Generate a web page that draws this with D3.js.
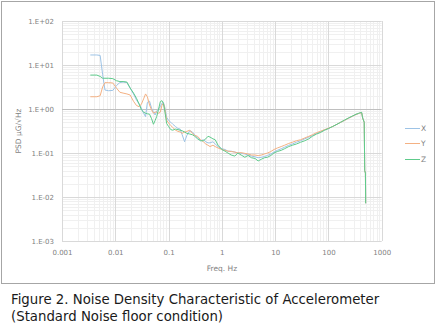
<!DOCTYPE html>
<html><head><meta charset="utf-8">
<script src="https://cdn.jsdelivr.net/npm/d3@7/dist/d3.min.js"></script>
<style>body{margin:0;background:#fff}svg{display:block}</style>
</head><body>
<svg id="c" width="441" height="332"></svg>
<script>
const freqs = [0.0034,0.0045,0.0052,0.0058,0.0064,0.0075,0.009,0.0105,0.0122,0.014,0.0165,0.019,0.022,0.025,0.028,0.031,0.034,0.037,0.040,0.044,0.048,0.052,0.056,0.060,0.065,0.070,0.075,0.080,0.085,0.092,0.1,0.11,0.12,0.135,0.15,0.165,0.18,0.2,0.22,0.25,0.28,0.31,0.35,0.4,0.45,0.5,0.55,0.6,0.68,0.75,0.85,1.0,1.15,1.3,1.5,1.75,2.0,2.3,2.7,3.1,3.6,4.2,4.8,5.5,6.3,7.2,8.3,9.5,11,13,15,18,21,25,30,36,43,50,60,70,85,100,120,145,170,200,240,280,330,380,420,440,470,480,495,500];
const seriesX = [16.9,16.9,16.5,6,2.7,2.6,2.65,3.4,4.0,4.1,4.0,3.0,2.2,1.6,1.3,1.04,0.8,0.67,1.4,1.5,1.04,0.85,0.73,0.9,1.0,1.13,1.35,1.4,1.1,0.65,0.55,0.5,0.45,0.4,0.36,0.35,0.26,0.18,0.25,0.32,0.3,0.26,0.22,0.19,0.2,0.18,0.17,0.17,0.18,0.16,0.14,0.125,0.12,0.11,0.11,0.105,0.1,0.098,0.095,0.09,0.085,0.082,0.078,0.08,0.083,0.088,0.095,0.105,0.115,0.125,0.135,0.15,0.16,0.175,0.19,0.21,0.23,0.25,0.28,0.3,0.335,0.36,0.4,0.45,0.5,0.55,0.62,0.68,0.75,0.8,0.83,0.63,0.5,0.04,0.035,0.0072];
const seriesY = [1.9,1.9,2.0,3.2,3.96,3.96,3.9,3.0,2.4,2.3,2.2,2.08,1.5,1.2,1.13,1.3,1.7,2.2,1.9,1.23,0.95,0.8,0.85,0.85,0.8,0.85,1.2,1.35,1.0,0.56,0.48,0.42,0.38,0.33,0.31,0.3,0.28,0.3,0.31,0.33,0.28,0.25,0.24,0.2,0.18,0.16,0.15,0.14,0.15,0.14,0.13,0.12,0.115,0.11,0.108,0.105,0.1,0.102,0.098,0.095,0.09,0.09,0.087,0.09,0.095,0.1,0.108,0.12,0.13,0.14,0.15,0.165,0.175,0.19,0.2,0.22,0.24,0.26,0.29,0.31,0.34,0.365,0.4,0.45,0.5,0.55,0.62,0.68,0.75,0.8,0.82,0.62,0.5,0.04,0.035,0.0072];
const seriesZ = [5.9,5.9,5.5,5.0,5.0,5.0,4.9,4.4,4.2,4.2,4.1,3.0,2.3,1.75,1.3,0.95,0.85,0.8,0.78,0.76,0.6,0.45,0.55,0.68,1.0,1.47,1.55,1.35,0.9,0.47,0.4,0.34,0.33,0.35,0.34,0.33,0.32,0.3,0.28,0.27,0.26,0.24,0.21,0.19,0.19,0.21,0.24,0.23,0.21,0.2,0.15,0.12,0.11,0.1,0.09,0.085,0.1,0.09,0.08,0.088,0.078,0.075,0.066,0.072,0.078,0.08,0.088,0.1,0.108,0.115,0.125,0.14,0.15,0.16,0.175,0.19,0.21,0.24,0.27,0.29,0.33,0.36,0.4,0.45,0.5,0.56,0.63,0.69,0.76,0.81,0.84,0.62,0.5,0.04,0.035,0.0072];
const seriesNames = ["X","Y","Z"];
const seriesColors = ["#9dc3e6","#f4b183","#5ecb8b"];
const xTickValues = [0.001,0.01,0.1,1,10,100,1000];
const xTickLabels = ["0.001","0.01","0.1","1","10","100","1000"];
const yTickValues = [0.001,0.01,0.1,1,10,100];
const yTickLabels = ["1.E-03","1.E-02","1.E-01","1.E+00","1.E+01","1.E+02"];
const xTitle = "Freq. Hz";
const yTitle = "PSD µG/√Hz";
const caption = ["Figure 2. Noise Density Characteristic of Accelerometer","(Standard Noise floor condition)"];

const svg = d3.select("#c");
const x = d3.scaleLog().domain([0.001,1000]).range([62,381.7]);
const y = d3.scaleLog().domain([0.001,100]).range([241,21]);

svg.append("rect").attr("x",1.5).attr("y",1.5).attr("width",433).attr("height",282)
  .attr("fill","#fff").attr("stroke","#a6a6a6").attr("stroke-width",1);

const minorX = [], minorY = [];
for (let e=-3;e<3;e++) for (let m=2;m<=9;m++) minorX.push(m*Math.pow(10,e));
for (let e=-3;e<2;e++) for (let m=2;m<=9;m++) minorY.push(m*Math.pow(10,e));
const g = svg.append("g");
g.selectAll(".mx").data(minorX).join("line")
  .attr("x1",d=>Math.round(x(d))+0.5).attr("x2",d=>Math.round(x(d))+0.5)
  .attr("y1",y(100)).attr("y2",y(0.001)).attr("stroke","#f0f0f0");
g.selectAll(".my").data(minorY).join("line")
  .attr("y1",d=>Math.round(y(d))+0.5).attr("y2",d=>Math.round(y(d))+0.5)
  .attr("x1",x(0.001)).attr("x2",x(1000)).attr("stroke","#f0f0f0");
g.selectAll(".Mx").data(xTickValues).join("line")
  .attr("x1",d=>Math.round(x(d))+0.5).attr("x2",d=>Math.round(x(d))+0.5)
  .attr("y1",y(100)).attr("y2",y(0.001)).attr("stroke","#d9d9d9");
g.selectAll(".My").data(yTickValues).join("line")
  .attr("y1",d=>Math.round(y(d))+0.5).attr("y2",d=>Math.round(y(d))+0.5)
  .attr("x1",x(0.001)).attr("x2",x(1000)).attr("stroke",d=>d===1?"#bfbfbf":"#d9d9d9");

const xAxis = d3.axisBottom(x).tickValues(xTickValues).tickFormat((d,i)=>xTickLabels[i]).tickSize(0).tickPadding(0);
const gx = svg.append("g").attr("transform",`translate(0,${y(0.001)+9})`).call(xAxis);
gx.select(".domain").remove();
gx.selectAll("text").attr("font-family","DejaVu Sans").attr("font-size",7).attr("fill","#7f7f7f");
const yAxis = d3.axisLeft(y).tickValues(yTickValues).tickFormat((d,i)=>yTickLabels[i]).tickSize(0).tickPadding(8);
const gy = svg.append("g").attr("transform",`translate(${x(0.001)},0)`).call(yAxis);
gy.select(".domain").remove();
gy.selectAll("text").attr("font-family","DejaVu Sans").attr("font-size",7).attr("fill","#7f7f7f");

svg.append("text").attr("x",222).attr("y",271).attr("text-anchor","middle")
  .attr("font-family","DejaVu Sans").attr("font-size",7.5).attr("fill","#7f7f7f").text(xTitle);
svg.append("text").attr("transform",`translate(21,131) rotate(-90)`).attr("text-anchor","middle")
  .attr("font-family","DejaVu Sans").attr("font-size",7.5).attr("fill","#7f7f7f").text(yTitle);

const allSeries = [seriesX, seriesY, seriesZ];
const line = d3.line().x(d=>x(d[0])).y(d=>y(d[1]));
allSeries.forEach((vals,i)=>{
  svg.append("path").datum(freqs.map((f,j)=>[f,vals[j]]))
    .attr("d",line).attr("fill","none").attr("stroke",seriesColors[i]).attr("stroke-width",1);
});

const legY = [128,143,159];
seriesNames.forEach((n,i)=>{
  svg.append("line").attr("x1",405).attr("x2",420).attr("y1",legY[i]+0.5).attr("y2",legY[i]+0.5)
    .attr("stroke",seriesColors[i]).attr("stroke-width",1);
  svg.append("text").attr("x",421).attr("y",legY[i]+2.5).attr("font-family","DejaVu Sans")
    .attr("font-size",7.5).attr("fill","#7f7f7f").text(n);
});

caption.forEach((t,i)=>{
  svg.append("text").attr("x",11).attr("y",304+i*17).attr("font-family","DejaVu Sans")
    .attr("font-size",13.3).attr("fill","#1a1a1a").text(t);
});
</script>
</body></html>
